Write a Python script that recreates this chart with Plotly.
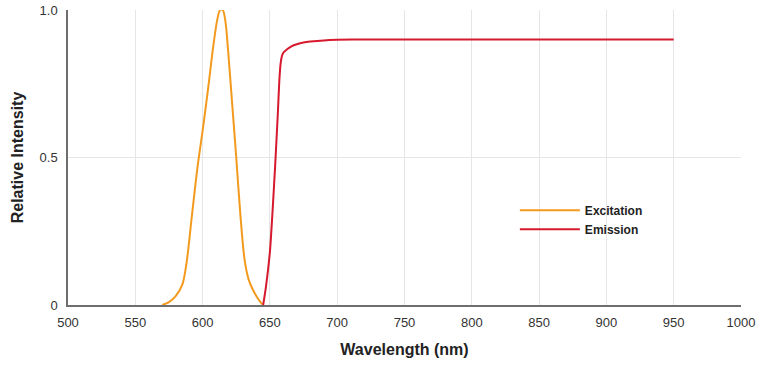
import plotly.graph_objects as go

exc_wl = [570, 575, 580, 585, 588, 592, 596, 600, 604, 608, 611, 613, 615, 617, 619, 622, 625, 628, 631, 634, 637, 640, 643, 645]
exc_val = [0.0, 0.01, 0.03, 0.07, 0.14, 0.30, 0.46, 0.59, 0.73, 0.88, 0.97, 1.0, 1.0, 0.96, 0.86, 0.68, 0.50, 0.31, 0.16, 0.09, 0.055, 0.03, 0.01, 0.0]

em_wl = [645, 647, 650, 652, 654, 656, 657, 658, 659, 660, 663, 666, 670, 675, 680, 690, 700, 720, 800, 900, 950]
em_val = [0.0, 0.06, 0.18, 0.32, 0.48, 0.66, 0.76, 0.82, 0.845, 0.855, 0.868, 0.877, 0.884, 0.89, 0.893, 0.897, 0.899, 0.9, 0.9, 0.9, 0.9]

x_ticks = [500, 550, 600, 650, 700, 750, 800, 850, 900, 950, 1000]
y_ticks = [0, 0.5, 1.0]
y_labels = ["0", "0.5", "1.0"]

fig = go.Figure()
fig.add_trace(go.Scatter(x=exc_wl, y=exc_val, mode="lines", name="Excitation",
                         line=dict(color="#F39A1E", width=2, shape="spline", smoothing=0.8)))
fig.add_trace(go.Scatter(x=em_wl, y=em_val, mode="lines", name="Emission",
                         line=dict(color="#D7192D", width=2, shape="spline", smoothing=0.6)))

font_family = "Liberation Sans, Arial, sans-serif"
fig.update_layout(
    width=760, height=366,
    margin=dict(l=68, r=19, t=10, b=61, autoexpand=False),
    paper_bgcolor="white", plot_bgcolor="white",
    font=dict(family=font_family, color="#333333", size=13),
    showlegend=True,
    legend=dict(x=0.664, y=0.37, xanchor="left", yanchor="top",
                bgcolor="rgba(0,0,0,0)", itemwidth=60,
                font=dict(size=12, color="#222222", family=font_family, weight="bold"),
                tracegroupgap=2),
    xaxis=dict(range=[500, 1000], tickvals=x_ticks, showgrid=True, gridcolor="#E6E6E6",
               gridwidth=1, showline=True, linecolor="#6E6E6E", linewidth=1.5,
               zeroline=False, ticks="", ticklabelstandoff=5, automargin=False,
               tickfont=dict(size=13, color="#333333"),
               title=dict(text="<b>Wavelength (nm)</b>", font=dict(size=16, color="#222222"),
                          standoff=14)),
    yaxis=dict(range=[0, 1.0], tickvals=y_ticks, ticktext=y_labels, showgrid=True,
               gridcolor="#E6E6E6", gridwidth=1, showline=True, linecolor="#6E6E6E",
               linewidth=1.5, zeroline=False, ticks="", ticklabelstandoff=6, automargin=False,
               tickfont=dict(size=13, color="#333333"),
               title=dict(text="<b>Relative Intensity</b>", font=dict(size=16, color="#222222"),
                          standoff=12)),
)

fig.write_html("out.html", config={"displayModeBar": False},
               post_script="document.body.style.margin='0';document.body.style.overflow='hidden';")
